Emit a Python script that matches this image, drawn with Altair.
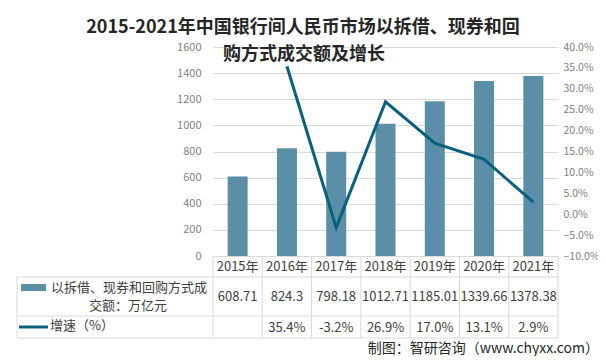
import altair as alt
import pandas as pd

# ---- data ----
years = ["2015年", "2016年", "2017年", "2018年", "2019年", "2020年", "2021年"]
volume = [608.71, 824.3, 798.18, 1012.71, 1185.01, 1339.66, 1378.38]
growth = [None, 35.4, -3.2, 26.9, 17.0, 13.1, 2.9]
volume_labels = ["608.71", "824.3", "798.18", "1012.71", "1185.01", "1339.66", "1378.38"]
growth_labels = ["", "35.4%", "-3.2%", "26.9%", "17.0%", "13.1%", "2.9%"]
left_ticks = [0, 200, 400, 600, 800, 1000, 1200, 1400, 1600]
right_ticks = [-10, -5, 0, 5, 10, 15, 20, 25, 30, 35, 40]

title_lines = ["2015-2021年中国银行间人民币市场以拆借、现券和回", "购方式成交额及增长"]
bar_series_lines = ["以拆借、现券和回购方式成", "交额：万亿元"]
line_series_label = "增速（%）"
source_text = "制图：智研咨询（www.chyxx.com）"

# ---- style ----
BAR_COLOR = "#5B8FA8"
LINE_COLOR = "#0A5F7E"
GRID = "#d9d9d9"
TXT = "#404040"
AXIS_TXT = "#7f7f7f"
FONT = "Noto Sans CJK SC"

W, H = 345, 209
TBL_LEFT = -196
ROW1_B, ROW2_B, ROW3_B = 230, 269, 291

df = pd.DataFrame({
    "year": years,
    "volume": volume,
    "growth": growth,
    "vlabel": volume_labels,
    "glabel": growth_labels,
})
df_line = df.dropna(subset=["growth"])
one = pd.DataFrame({"k": [0]})

xs = alt.Scale(domain=years, paddingInner=0, paddingOuter=0)
X = alt.X("year:N", sort=years, scale=xs, axis=None)

bars = alt.Chart(df).mark_bar(size=20, color=BAR_COLOR).encode(
    x=X,
    y=alt.Y("volume:Q", scale=alt.Scale(domain=[0, 1600], nice=False),
            axis=alt.Axis(values=left_ticks, format="d", grid=True, gridColor=GRID,
                          domain=False, ticks=False, labelPadding=12, labelColor=AXIS_TXT,
                          labelFontSize=11, labelFont=FONT, title=None)),
)

line = alt.Chart(df_line).mark_line(color=LINE_COLOR, strokeWidth=3).encode(
    x=X,
    y=alt.Y("growth:Q", scale=alt.Scale(domain=[-10, 40], nice=False),
            axis=alt.Axis(orient="right", values=right_ticks, grid=False, domain=False,
                          ticks=False, labelPadding=5, labelColor=AXIS_TXT,
                          labelFontSize=10.5, labelFont=FONT, title=None,
                          labelExpr="format(datum.value, '.1f') + '%'")),
)

tstyle = dict(font=FONT, fontSize=13, color=TXT, baseline="middle", align="center")

hdr = alt.Chart(df).mark_text(**tstyle).encode(x=X, y=alt.value(220), text="year:N")
vrow = alt.Chart(df).mark_text(**tstyle).encode(x=X, y=alt.value(250), text="vlabel:N")
grow = alt.Chart(df).mark_text(**tstyle).encode(x=X, y=alt.value(281), text="glabel:N")

# table borders
col_lines = alt.Chart(df).mark_rule(color=GRID, strokeWidth=1).encode(
    x=alt.X("year:N", sort=years, scale=xs, axis=None, bandPosition=0),
    y=alt.value(H), y2=alt.value(ROW3_B))
right_border = alt.Chart(one).mark_rule(color=GRID).encode(
    x=alt.value(W), y=alt.value(H), y2=alt.value(ROW3_B))
left_border = alt.Chart(one).mark_rule(color=GRID).encode(
    x=alt.value(TBL_LEFT), y=alt.value(ROW1_B), y2=alt.value(ROW3_B))
hlines = [alt.Chart(one).mark_rule(color=GRID).encode(
    x=alt.value(TBL_LEFT), x2=alt.value(W), y=alt.value(yy))
    for yy in (ROW1_B, ROW2_B, ROW3_B)]

# row labels with legend swatches
sw_bar = alt.Chart(one).mark_rect(color=BAR_COLOR).encode(
    x=alt.value(-192), x2=alt.value(-167), y=alt.value(237), y2=alt.value(244))
sw_line = alt.Chart(one).mark_rule(color=LINE_COLOR, strokeWidth=3).encode(
    x=alt.value(-194), x2=alt.value(-165), y=alt.value(280))
lab1 = alt.Chart(one).mark_text(text=bar_series_lines[0], **tstyle).encode(
    x=alt.value(-84), y=alt.value(241))
lab2 = alt.Chart(one).mark_text(text=bar_series_lines[1], **tstyle).encode(
    x=alt.value(-85), y=alt.value(259))
lab3 = alt.Chart(one).mark_text(text=line_series_label, font=FONT, fontSize=13, color=TXT,
                                baseline="middle", align="left").encode(
    x=alt.value(-163), y=alt.value(279))

# title and source
t1 = alt.Chart(one).mark_text(text=title_lines[0], font=FONT, fontSize=18, fontWeight="bold",
                              color="#262626", baseline="middle", align="center").encode(
    x=alt.value(90), y=alt.value(-19))
t2 = alt.Chart(one).mark_text(text=title_lines[1], font=FONT, fontSize=18, fontWeight="bold",
                              color="#262626", baseline="middle", align="center").encode(
    x=alt.value(91), y=alt.value(8))
src = alt.Chart(one).mark_text(text=source_text, font=FONT, fontSize=14, color="#262626",
                               baseline="alphabetic", align="right").encode(
    x=alt.value(386), y=alt.value(306))

chart = alt.layer(
    bars, line, col_lines, right_border, left_border, *hlines,
    hdr, vrow, grow, sw_bar, sw_line, lab1, lab2, lab3, t1, t2, src,
).resolve_scale(y="independent").properties(
    width=W, height=H,
    autosize=alt.AutoSizeParams(type="none"),
    padding={"left": 205, "top": 39, "right": 40, "bottom": 100},
).configure_view(stroke=None)

chart.save("out.html", embed_options={"renderer": "svg", "actions": False})
